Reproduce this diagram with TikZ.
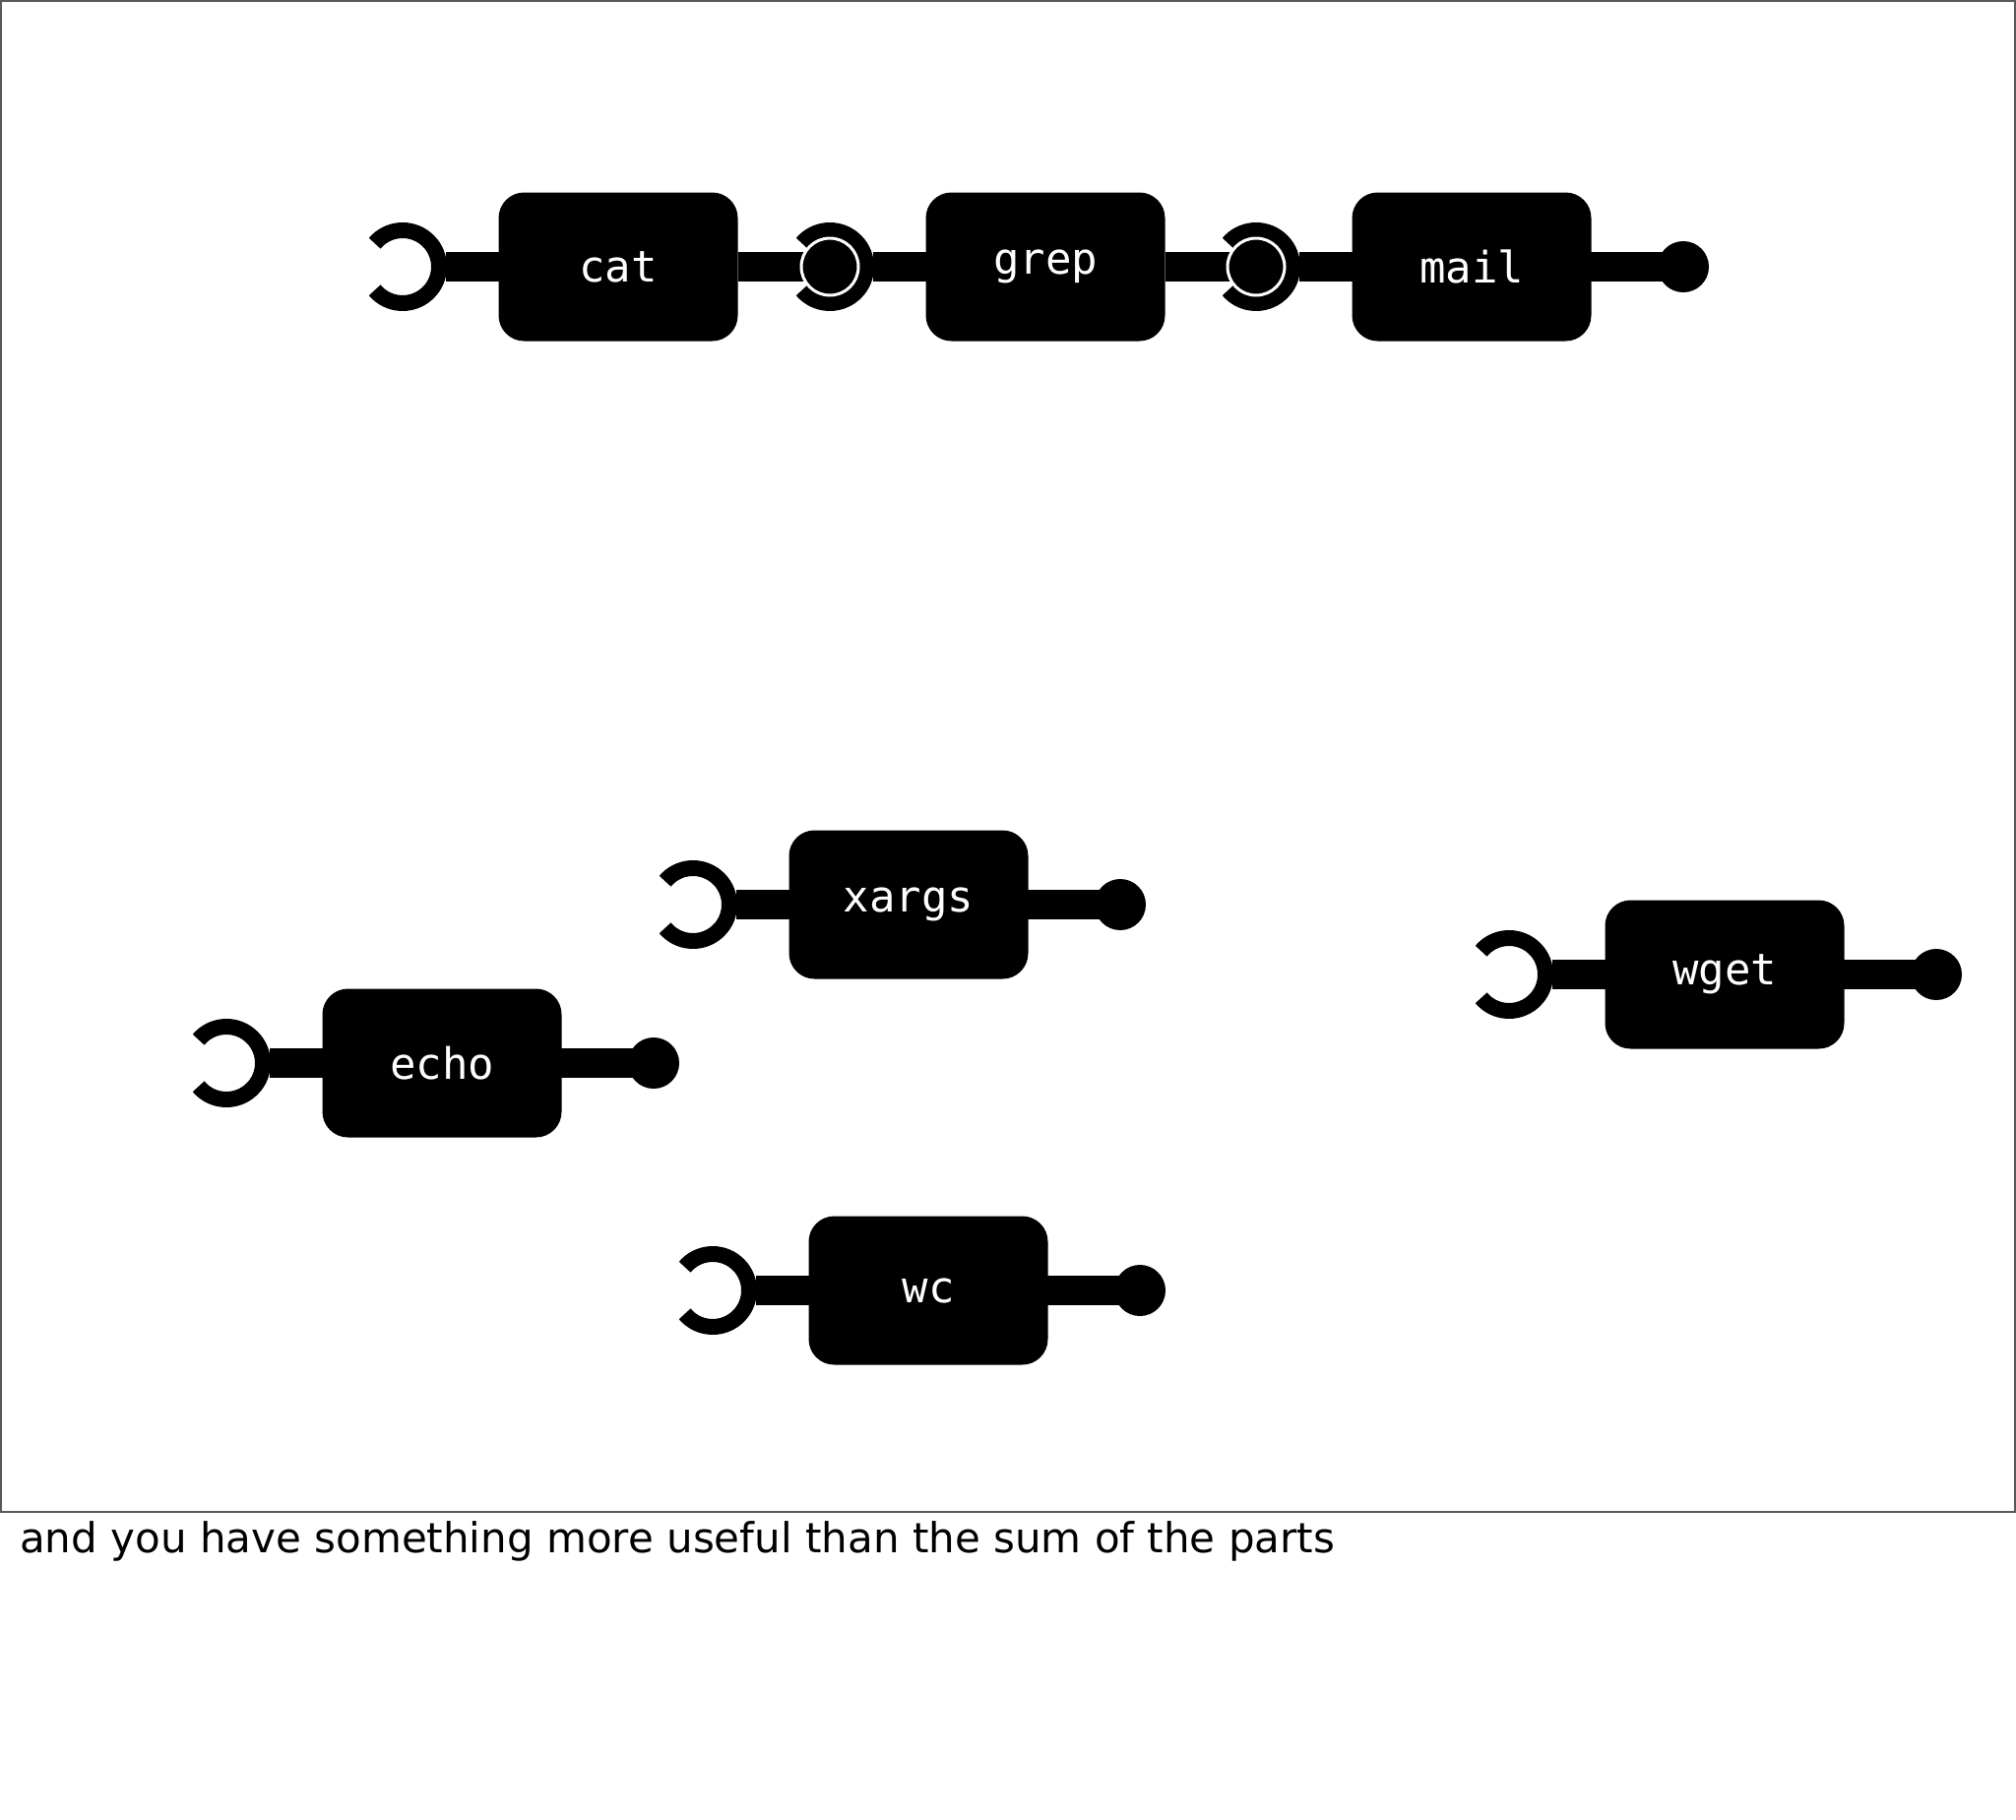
\documentclass[tikz,border=0pt]{standalone}
\usepackage{fontspec}
\newfontfamily\monof{DejaVu Sans Mono}
\newfontfamily\capf{DejaVu Sans}
\begin{document}
\begin{tikzpicture}[x=1pt,y=-1pt,
  prog/.style={fill=black,rounded corners=26pt,minimum width=243pt,minimum height=151pt,inner sep=0pt,text=white,font=\monof\fontsize{44}{44}\selectfont},
  wire/.style={line width=30pt},
  sock/.style={line width=16pt},
  ballst/.style={fill=black}]
\useasboundingbox (0,0) rectangle (2048,1848);
\draw[gray!70!black,line width=2pt] (1,1) rectangle (2047,1536);
\newcommand\progunit[5]{%
  \coordinate (#1s) at (#2-219,#3);
  \coordinate (#1b) at (#2+215,#3);
  \draw[sock] ($(#1s)+(-140:37)$) arc[start angle=-140,end angle=140,radius=37];
  \draw[wire] ($(#1s)+(44,0)$) -- (#1s -| #2-100,#3);
  \ifx#5y\draw[wire] (#2+100,#3) -- (#1b);\fill[ballst] (#1b) circle[radius=26];\fi
  \node[prog] (#1) at (#2,#3) {#4};
  \draw[wire] ($(#1s)+(44,0)$) -- (#1.west);}
\usetikzlibrary{calc}
\progunit{cat}{628}{271}{cat}{n}
\progunit{grep}{1062}{271}{grep}{n}
\progunit{mail}{1495}{271}{mail}{y}
\progunit{xargs}{923}{919}{xargs}{y}
\progunit{echo}{449}{1080}{echo}{y}
\progunit{wget}{1752}{990}{wget}{y}
\progunit{wc}{943}{1311}{wc}{y}
\draw[wire] (cat.east) -- (greps);
\draw[wire] (grep.east) -- (mails);
\fill[ballst,draw=white,line width=3pt] (greps) circle[radius=29];
\fill[ballst,draw=white,line width=3pt] (mails) circle[radius=29];
\node[anchor=base west,inner sep=0pt,font=\capf\fontsize{42}{42}\selectfont] (cap) at (20,1577) {and you have something more useful than the sum of the parts};
\end{tikzpicture}
\end{document}
